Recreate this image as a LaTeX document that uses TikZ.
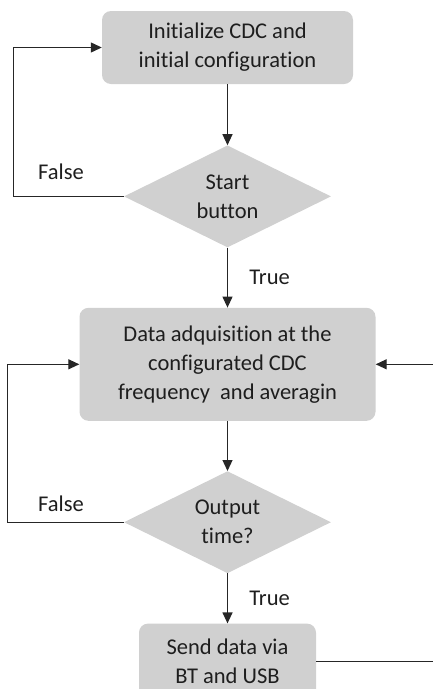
\documentclass[tikz,border=0pt]{standalone}
\usepackage{fontspec}
\setmainfont{Carlito}[Ligatures=NoCommon]
\usepackage{xcolor}
\usepackage{tikz}
\usetikzlibrary{positioning,arrows.meta,shapes.geometric}
\definecolor{boxgray}{RGB}{208,208,208}
\definecolor{ink}{RGB}{30,30,30}

\begin{document}
\begin{tikzpicture}[
  x=1pt, y=1pt, font=\fontsize{22.5}{29}\selectfont, text=ink,
  blk/.style={fill=boxgray, rounded corners=9pt, align=center, inner sep=2pt},
  dec/.style={diamond, fill=boxgray, aspect=2.03, inner sep=0pt, align=center,
    minimum width=207pt, minimum height=102pt},
  arr/.style={-{Triangle[length=11pt, width=10pt]}, line width=1.2pt, draw=black!85},
  lin/.style={line width=1.2pt, draw=black!85},
  lbl/.style={font=\fontsize{22.5}{26}\selectfont}]
\clip (0,0) rectangle (433,-689);
\node[blk, minimum width=251pt, minimum height=73pt] (init) at (227.5,-47.5)
  {Initialize CDC and\\initial configuration};
\node[dec, below=61pt of init] (start) {Start\\button};
\node[blk, below=60pt of start, minimum width=296pt, minimum height=113pt] (acq)
  {Data adquisition at the\\configurated CDC\\frequency\ \ and averagin};
\node[dec, below=50pt of acq] (outp) {Output\\time?};
\node[blk, below=50pt of outp, minimum width=177pt, minimum height=76pt] (send)
  {Send data via\\BT and USB};
\coordinate (edge) at (433,0);
\coordinate (back) at (acq.east -| edge);
\coordinate (out) at (send.east -| edge);
\draw[arr] (init) -- (start);
\draw[arr] (start) -- node[lbl, right=18pt] (t1) {True} (acq);
\draw[arr] (acq) -- (outp);
\draw[arr] (outp) -- node[lbl, right=18pt] (t2) {True} (send);
\draw[arr] (start.west) -- ++(-110,0) |- (init.west);
\draw[arr] (outp.west) -- ++(-116,0) |- (acq.west);
\draw[arr] (back) -- (acq.east);
\draw[lin] (send.east) -- (out);
\node[lbl] (f1) at (61,-172) {False};
\node[lbl] (f2) at (61,-504) {False};
\end{tikzpicture}
\end{document}
